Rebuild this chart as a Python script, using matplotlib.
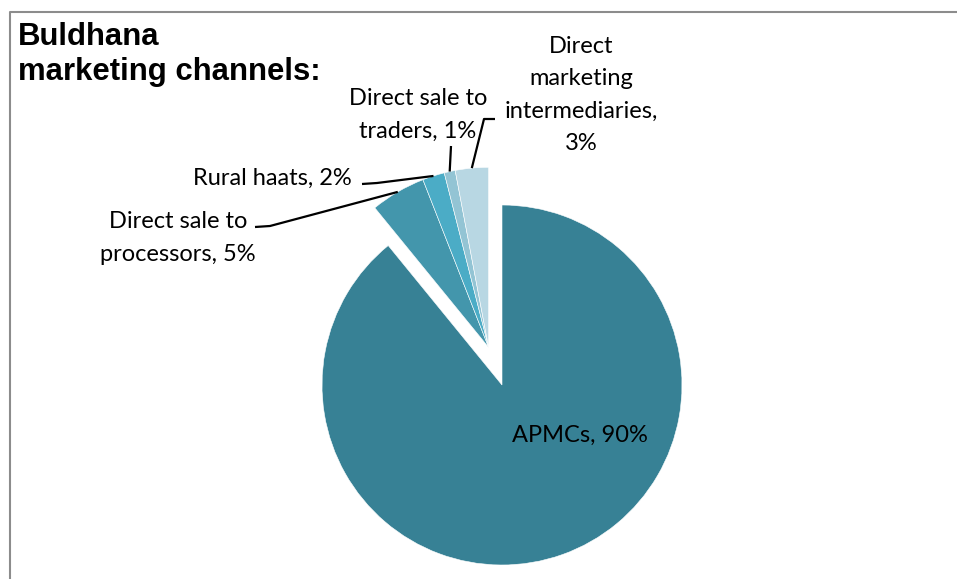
import numpy as np
import matplotlib
matplotlib.use("Agg")
import matplotlib.pyplot as plt

# Buldhana marketing channels (share of produce, %)
channels = ["APMCs", "Direct sale to\nprocessors", "Rural haats",
            "Direct sale to\ntraders", "Direct\nmarketing\nintermediaries"]
shares = [90, 5, 2, 1, 3]
colors = ["#378195", "#4396ac", "#4bacc6", "#93c4d4", "#b8d7e3"]

W, H = 957, 579
fig = plt.figure(figsize=(W / 100, H / 100), dpi=100)
ax = fig.add_axes([0, 0, 1, 1])


def px(x, y):
    # pixel position (origin top-left) -> data coords
    return x, H - y


cx, cy = px(502, 385)
R = 180
wedges, _ = ax.pie(shares, colors=colors, startangle=90, counterclock=False,
                   radius=R, center=(cx, cy),
                   wedgeprops=dict(edgecolor="white", linewidth=0.4))

# pull the small channels out together as one block
small = wedges[1:]
t1 = min(w.theta1 for w in small)
t2 = max(w.theta2 for w in small)
mid = np.deg2rad((t1 + t2) / 2)
off = 40
ecx, ecy = cx + off * np.cos(mid), cy + off * np.sin(mid)
for w in small:
    w.set_center((ecx, ecy))

ax.set_xlim(0, W)
ax.set_ylim(0, H)
ax.set_aspect("equal")
ax.axis("off")


def arc_mid(w):
    a = np.deg2rad((w.theta1 + w.theta2) / 2)
    x0, y0 = w.center
    return x0 + w.r * np.cos(a), y0 + w.r * np.sin(a)


lab_font = dict(family=["Lato", "DejaVu Sans"], fontsize=17, color="black",
                linespacing=1.65)

# slice index, separator before the value, text centre, leader points (px)
labels = [
    (1, ", ", (178, 238), [(255, 227), (270, 226)]),
    (2, ", ", (272, 178), [(362, 184), (377, 183)]),
    (3, ", ", (418, 115), [(451, 146)]),
    (4, ",\n", (581, 95), [(495, 119), (484, 119)]),
]
for i, sep, (lx, ly), pts in labels:
    ax.text(*px(lx, ly), f"{channels[i]}{sep}{shares[i]}%", ha="center",
            va="center", **lab_font)
    xs = [px(*p)[0] for p in pts]
    ys = [px(*p)[1] for p in pts]
    ex, ey = arc_mid(wedges[i])
    ax.plot(xs + [ex], ys + [ey], color="black", lw=1.6,
            solid_capstyle="butt")

ax.text(*px(580, 435), f"{channels[0]}, {shares[0]}%", ha="center",
        va="center", **lab_font)

ax.text(*px(18, 22), "Buldhana\nmarketing channels:", ha="left", va="top",
        family="Liberation Sans", fontweight="bold", fontsize=22.4,
        linespacing=1.2)

# chart frame
ax.plot([9.5, 9.5, W], [0, H - 12, H - 12], color="#8c8c8c", lw=1.5,
        clip_on=False)

fig.savefig("out.png", dpi=100)
